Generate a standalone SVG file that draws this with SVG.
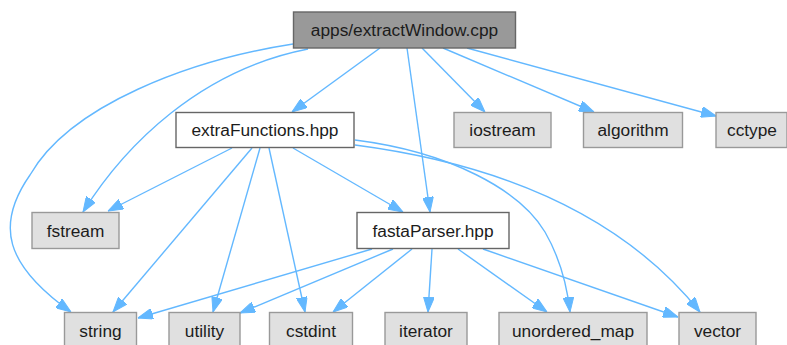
<svg xmlns="http://www.w3.org/2000/svg" width="787" height="345" viewBox="0 0 787 345">
  <style>
    .box rect { stroke-width: 1.4; }
    .main rect { fill: #999999; stroke: #666666; }
    .local rect { fill: #ffffff; stroke: #666666; }
    .ext rect { fill: #e0e0e0; stroke: #999999; }
    text { font-family: "Liberation Sans", Arial, sans-serif; font-size: 17.3px; fill: #1c1c1c; text-anchor: middle; }
    #edges path { fill: none; stroke: #63b8ff; stroke-width: 1.4; marker-end: url(#arrow); }
  </style>
  <defs>
    <marker id="arrow" viewBox="0 0 15 11" refX="15" refY="5.5" markerWidth="15" markerHeight="11" markerUnits="userSpaceOnUse" orient="auto">
      <path d="M0,0 L15,5.5 L0,11 z" fill="#63b8ff" stroke="#63b8ff" stroke-width="1"/>
    </marker>
  </defs>
  <rect width="787" height="345" fill="#ffffff"/>

  <g id="edges">
    <!-- apps/extractWindow.cpp -->
    <path d="M380,48 L292,112"/>
    <path d="M407,48 L430,212"/>
    <path d="M422,48 L485,112"/>
    <path d="M443,48 L594,112"/>
    <path d="M467,48 L716,116"/>
    <path d="M308,49 C200,70 125,145 83,212"/>
    <path d="M293,44 C190,60 70,105 30,175 C-5,225 5,265 71,312"/>
    <!-- extraFunctions.hpp -->
    <path d="M232,148 L108,211"/>
    <path d="M252,148 L113,312"/>
    <path d="M260,148 L213,312"/>
    <path d="M269,148 L305,312"/>
    <path d="M293,148 L403,212"/>
    <path d="M355,140 C450,152 520,190 545,232 C560,258 567,285 570,312"/>
    <path d="M355,145 C470,160 610,200 700,312"/>
    <!-- fastaParser.hpp -->
    <path d="M372,249 L138,318"/>
    <path d="M393,249 L240,313"/>
    <path d="M412,249 L333,312"/>
    <path d="M432,249 L428,312"/>
    <path d="M458,249 L547,312"/>
    <path d="M483,249 L678,317"/>
  </g>

  <g id="node-main" class="box main">
    <rect x="293.5" y="12" width="222" height="36"/>
    <text x="404.5" y="36">apps/extractWindow.cpp</text>
  </g>
  <g id="node-extraFunctions" class="box local">
    <rect x="176" y="112.5" width="178" height="35"/>
    <text x="265" y="136">extraFunctions.hpp</text>
  </g>
  <g id="node-iostream" class="box ext">
    <rect x="454" y="112.5" width="97" height="35"/>
    <text x="502.5" y="136">iostream</text>
  </g>
  <g id="node-algorithm" class="box ext">
    <rect x="583.5" y="112.5" width="99" height="35"/>
    <text x="633" y="136">algorithm</text>
  </g>
  <g id="node-cctype" class="box ext">
    <rect x="716" y="112.5" width="71" height="35"/>
    <text x="752" y="136">cctype</text>
  </g>
  <g id="node-fstream" class="box ext">
    <rect x="32" y="212.5" width="87" height="36"/>
    <text x="75.5" y="236.5">fstream</text>
  </g>
  <g id="node-fastaParser" class="box local">
    <rect x="357" y="212.5" width="152" height="36"/>
    <text x="433" y="236.5">fastaParser.hpp</text>
  </g>
  <g id="node-string" class="box ext">
    <rect x="64.5" y="312.5" width="72" height="36"/>
    <text x="100.5" y="336.5">string</text>
  </g>
  <g id="node-utility" class="box ext">
    <rect x="169" y="312.5" width="71" height="36"/>
    <text x="204.5" y="336.5">utility</text>
  </g>
  <g id="node-cstdint" class="box ext">
    <rect x="269.5" y="312.5" width="83" height="36"/>
    <text x="311" y="336.5">cstdint</text>
  </g>
  <g id="node-iterator" class="box ext">
    <rect x="385" y="312.5" width="82" height="36"/>
    <text x="426" y="336.5">iterator</text>
  </g>
  <g id="node-unordered_map" class="box ext">
    <rect x="499" y="312.5" width="148" height="36"/>
    <text x="573" y="336.5">unordered_map</text>
  </g>
  <g id="node-vector" class="box ext">
    <rect x="679" y="312.5" width="77" height="36"/>
    <text x="717.5" y="336.5">vector</text>
  </g>
</svg>
